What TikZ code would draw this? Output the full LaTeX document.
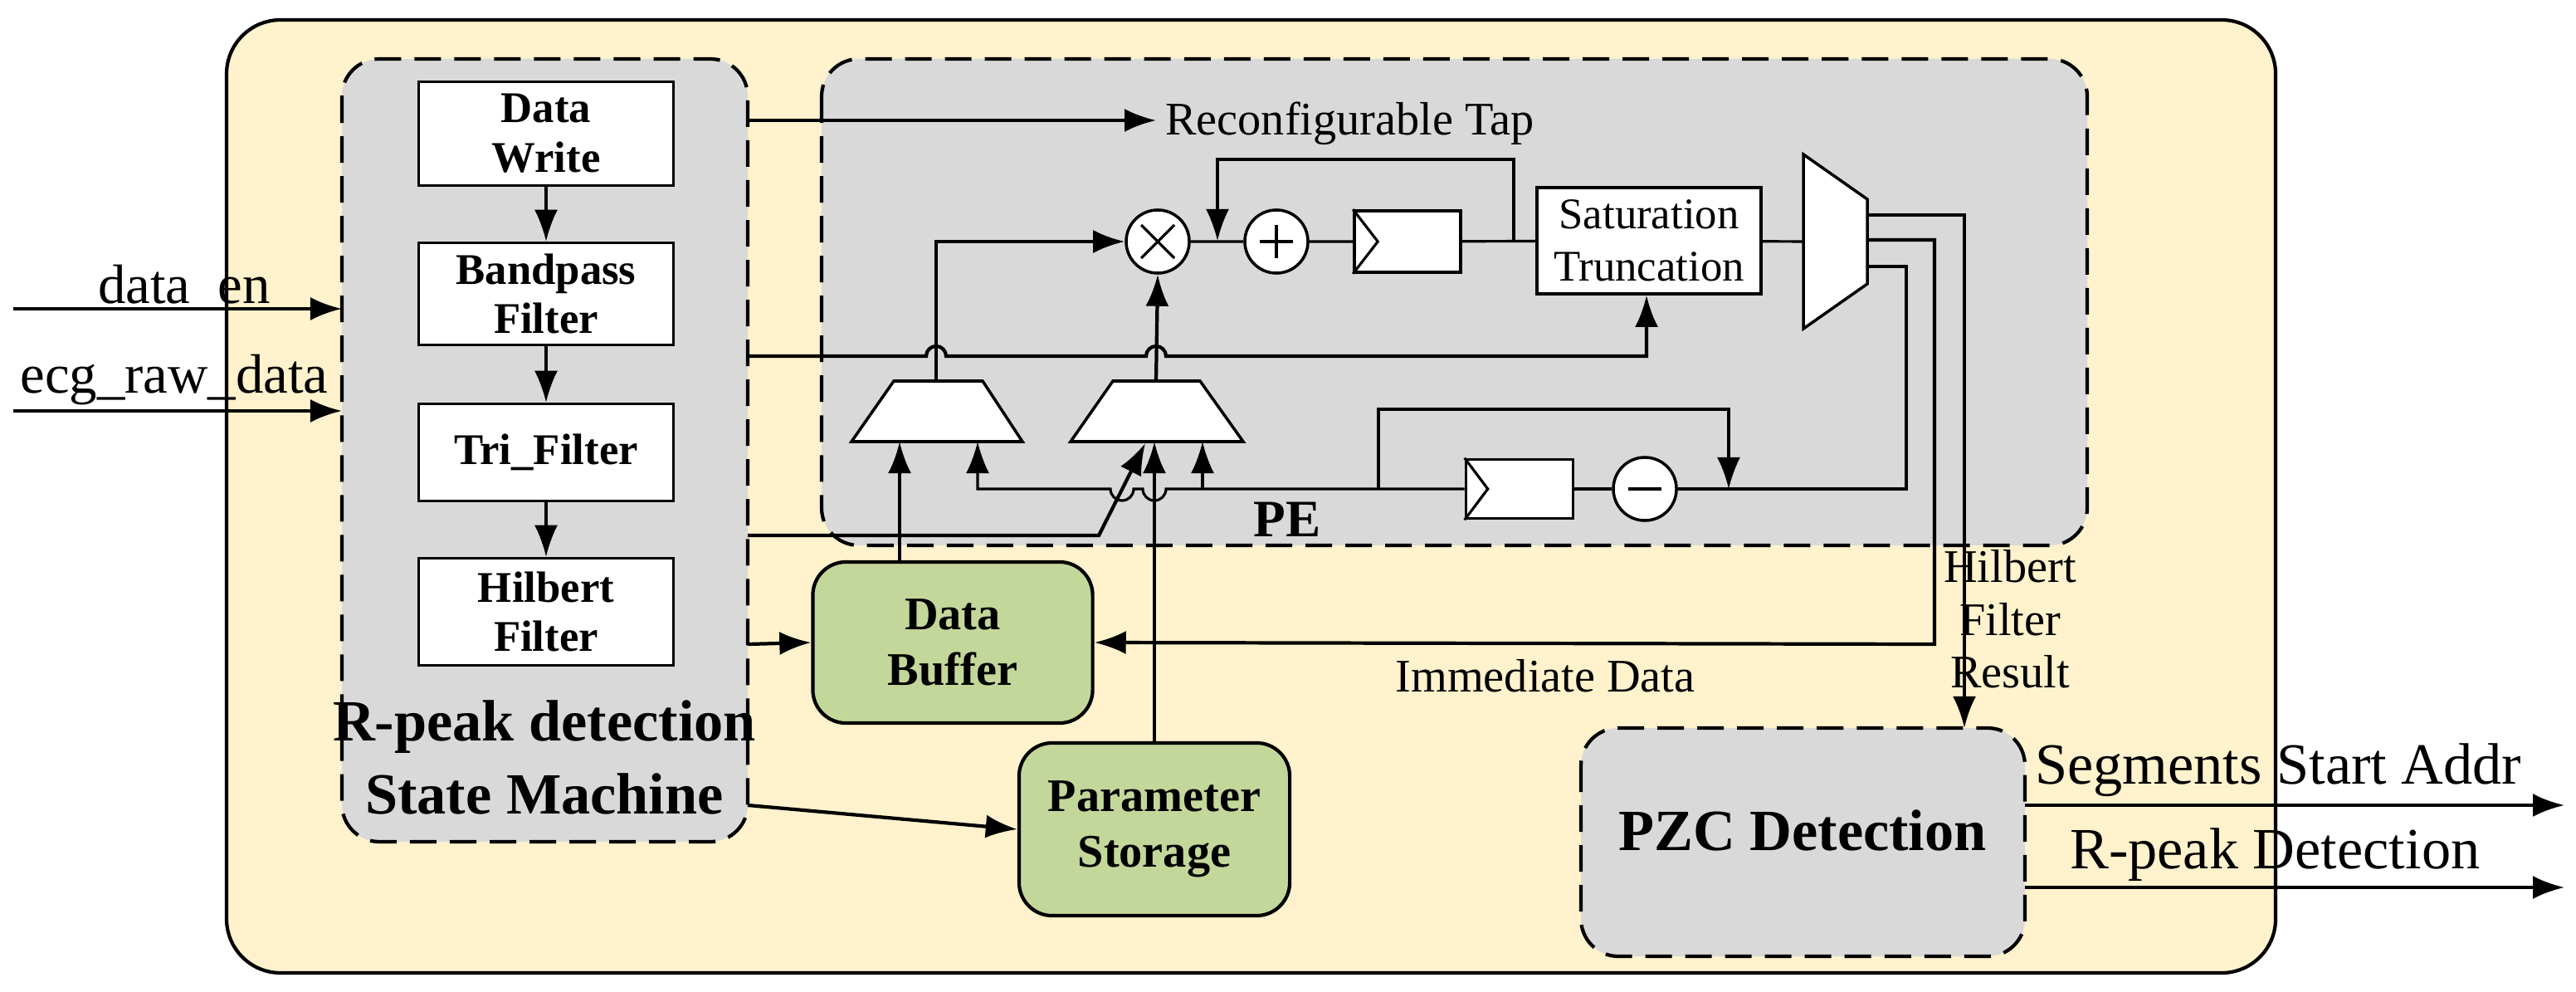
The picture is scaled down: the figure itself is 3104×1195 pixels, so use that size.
\documentclass[tikz,border=0pt]{standalone}
\usepackage{fontspec}
\setmainfont{Liberation Serif}
\usetikzlibrary{arrows.meta,calc}
\definecolor{outer}{HTML}{FFF2CC}
\definecolor{grayb}{HTML}{D9D9D9}
\definecolor{greenb}{HTML}{C4D79B}
\begin{document}
\begin{tikzpicture}[x=0.01cm,y=-0.01cm,
  ln/.style={line width=1.2pt},
  thin/.style={line width=0.9pt},
  arr/.style={-{Latex[length=0.38cm,width=0.28cm]}},
  box/.style={draw,fill=white,line width=1pt,font=\fontsize{15}{17}\selectfont\bfseries,align=center,inner sep=0pt},
  dbox/.style={draw,fill=grayb,line width=1.2pt,dash pattern=on 0.32cm off 0.16cm,rounded corners=0.45cm},
  gbox/.style={draw,fill=greenb,line width=1.2pt,rounded corners=0.4cm,font=\fontsize{16}{19}\selectfont\bfseries,align=center,inner sep=0pt},
  lbl/.style={font=\fontsize{16}{18}\selectfont,inner sep=1pt},
  big/.style={font=\fontsize{20}{24}\selectfont,inner sep=1pt},
  circ/.style={draw,fill=white,circle,line width=1pt,minimum size=0.76cm,inner sep=0pt},
  reg/.style={draw,fill=white,line width=1pt,inner sep=0pt}]
\useasboundingbox[fill=white] (0,0) rectangle (3104,1195);
\draw[line width=1.2pt,fill=outer,rounded corners=0.65cm] (273,24) rectangle (2742,1172);
% dashed regions
\draw[dbox] (412,71) rectangle (901,1014);
\draw[dbox] (990,71) rectangle (2515,657);
\draw[dbox] (1905,877) rectangle (2440,1152);
\node[big,font=\fontsize{20}{24}\selectfont\bfseries] (pzc) at (2172,1000) {PZC Detection};
\node[big,font=\fontsize{20}{25}\selectfont\bfseries,align=center] (smt) at (656,912) {R-peak detection\\State Machine};
\node[font=\fontsize{18}{20}\selectfont\bfseries] (pe) at (1551,626) {PE};
% SM boxes
\node[box,minimum width=3.07cm,minimum height=1.25cm] (dw) at (658,161) {Data\\Write};
\node[box,minimum width=3.07cm,minimum height=1.23cm] (bp) at (658,354) {Bandpass\\Filter};
\node[box,minimum width=3.07cm,minimum height=1.17cm] (tri) at (658,545) {Tri\_Filter};
\node[box,minimum width=3.07cm,minimum height=1.29cm] (hb) at (658,737) {Hilbert\\Filter};
\draw[thin,arr] (dw.south) -- (bp.north);
\draw[thin,arr] (bp.south) -- (tri.north);
\draw[thin,arr] (tri.south) -- (hb.north);
% inputs
\coordinate (in1) at (16,372); \coordinate (sm1) at (412,372);
\coordinate (in2) at (16,495); \coordinate (sm2) at (412,495);
\draw[ln,arr] (in1) -- (sm1);
\draw[ln,arr] (in2) -- (sm2);
\node[big,font=\fontsize{19}{22}\selectfont] (t1) at (222,347) {data\_en};
\node[big,font=\fontsize{19}{22}\selectfont] (t2) at (210,458) {ecg\_raw\_data};
% green boxes
\node[gbox,minimum width=3.37cm,minimum height=1.94cm] (db) at (1148,774) {Data\\Buffer};
\node[gbox,minimum width=3.26cm,minimum height=2.08cm] (ps) at (1391,999) {Parameter\\Storage};
% reconfigurable tap
\coordinate (rt0) at (901,145); \coordinate (rt1) at (1393,145);
\draw[ln,arr] (rt0) -- (rt1);
\node[lbl,anchor=west] (rtt) at (1400,149) {Reconfigurable Tap};
% PE elements
\node[circ] (mul) at (1395,291) {};
\draw[thin] ($(mul)+(-20,-20)$) -- ($(mul)+(20,20)$) ($(mul)+(-20,20)$) -- ($(mul)+(20,-20)$);
\node[circ] (add) at (1538,291) {};
\draw[thin] ($(add)+(-20,0)$) -- ($(add)+(20,0)$) ($(add)+(0,-20)$) -- ($(add)+(0,20)$);
\node[reg,minimum width=1.28cm,minimum height=0.74cm] (r1) at (1696,291) {};
\draw[thin] (r1.north west) -- ($(r1.west)+(30,0)$) -- (r1.south west);
\node[box,font=\fontsize{15}{18}\selectfont,minimum width=2.7cm,minimum height=1.28cm] (sat) at (1987,290) {Saturation\\Truncation};
\draw[line width=1pt,fill=white] (2173,186) -- (2250,240) -- (2250,342) -- (2173,396) -- cycle;
\coordinate (mx) at (2173,291);
\coordinate (mo1) at (2250,259); \coordinate (mo2) at (2250,289); \coordinate (mo3) at (2250,321);
\draw[thin] (mul) -- (add) (add) -- (r1) (r1) -- (sat) (sat) -- (mx);
\draw[thin,arr] (1824,291) -- (1824,192) -- (1467,192) -- (1467,290);
% muxes
\draw[line width=1pt,fill=white] (1026,532) -- (1077,459) -- (1184,459) -- (1232,532) -- cycle;
\coordinate (m1o) at (1128,459);
\draw[line width=1pt,fill=white] (1290,532) -- (1341,459) -- (1446,459) -- (1498,532) -- cycle;
\coordinate (m2o) at (1393,459);
\draw[ln,arr] (m1o) -- (1128,291) -- (mul.west);
\draw[ln,arr] (m2o) -- (mul.south);
% line at 429 with hops
\draw[ln,arr] (901,429) -- (1116,429) arc[start angle=180,end angle=0,radius=0.12cm] -- (1381,429) arc[start angle=180,end angle=0,radius=0.12cm] -- (1984,429) -- (sat.south-|1984,0);
% lower path
\node[reg,minimum width=1.29cm,minimum height=0.71cm] (r2) at (1831,589) {};
\draw[thin] (r2.north west) -- ($(r2.west)+(28,0)$) -- (r2.south west);
\node[circ] (sub) at (1982,589) {};
\draw[thin] ($(sub)+(-20,0)$) -- ($(sub)+(20,0)$);
\draw[thin] (mo3) -- (2297,321) -- (2297,589) -- (sub.east);
\draw[thin] (sub.west) -- (r2.east);
\draw[thin,arr] (r2.west) -- (1405,589) arc[start angle=0,end angle=-180,radius=0.14cm] -- (1366,589) arc[start angle=0,end angle=-180,radius=0.14cm] -- (1178,589) -- (1178,532);
\draw[thin,arr] (1449,589) -- (1449,532);
\draw[thin,arr] (1661,589) -- (1661,493) -- (2083,493) -- (2083,589);
% inputs to muxes
\draw[ln,arr] (db.north-|1084,0) -- (1084,532);
\draw[ln,arr] (ps.north) -- (1391,532);
\draw[ln,arr] (901,645) -- (1324,645) -- (1380,534);
% mux outputs
\draw[ln,arr] (mo2) -- (2331,289) -- (2331,776) -- (db.east);
\draw[ln,arr] (mo1) -- (2367,259) -- (2367,877);
\node[lbl,anchor=north] (idt) at (1862,790) {Immediate Data};
\node[lbl,align=center] (hfr) at (2422,746) {Hilbert\\Filter\\Result};
% SM to green boxes
\draw[ln,arr] (901,776) -- (db.west);
\draw[ln,arr] (901,970) -- (ps.west);
% outputs
\draw[ln,arr] (2440,970) -- (3090,970);
\draw[ln,arr] (2440,1069) -- (3090,1069);
\node[big,anchor=west] (o1) at (2448,928) {Segments Start Addr};
\node[big,anchor=west] (o2) at (2490,1030) {R-peak Detection};
\end{tikzpicture}
\end{document}
